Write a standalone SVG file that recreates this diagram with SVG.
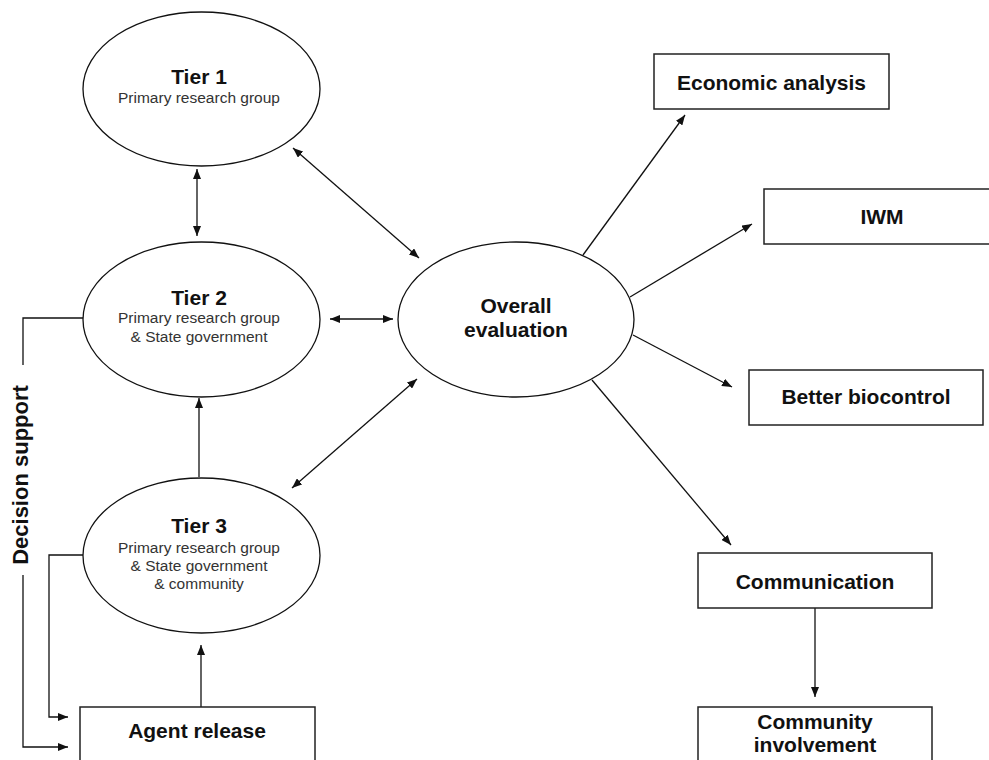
<svg xmlns="http://www.w3.org/2000/svg" width="989" height="760" viewBox="0 0 989 760">
  <defs>
    <marker id="arr" viewBox="0 0 10 8" refX="10" refY="4" markerWidth="10" markerHeight="8" markerUnits="userSpaceOnUse" orient="auto-start-reverse">
      <path d="M0,0 L10,4 L0,8 z" fill="#111"/>
    </marker>
  </defs>
  <style>
    .shape { fill: #fff; stroke: #111; stroke-width: 1.3; }
    .box { fill: #fff; stroke: #222; stroke-width: 1.5; }
    .conn { fill: none; stroke: #111; stroke-width: 1.3; }
    .title { font-family: "Liberation Sans", Arial, sans-serif; font-weight: bold; font-size: 21px; fill: #111; text-anchor: middle; }
    .sub { font-family: "Liberation Sans", Arial, sans-serif; font-size: 15.5px; fill: #333; text-anchor: middle; }
  </style>
  <rect width="989" height="760" fill="#fff"/>

  <g id="connectors">
    <line class="conn" x1="197" y1="169" x2="197" y2="236" marker-start="url(#arr)" marker-end="url(#arr)"/>
    <line class="conn" x1="293" y1="148" x2="419" y2="258" marker-start="url(#arr)" marker-end="url(#arr)"/>
    <line class="conn" x1="330" y1="319" x2="393" y2="319" marker-start="url(#arr)" marker-end="url(#arr)"/>
    <line class="conn" x1="292" y1="488" x2="417" y2="379" marker-start="url(#arr)" marker-end="url(#arr)"/>
    <line class="conn" x1="199" y1="477" x2="199" y2="398" marker-end="url(#arr)"/>
    <line class="conn" x1="201" y1="707" x2="201" y2="645" marker-end="url(#arr)"/>
    <line class="conn" x1="583" y1="255" x2="685" y2="115" marker-end="url(#arr)"/>
    <line class="conn" x1="630" y1="297" x2="752" y2="224" marker-end="url(#arr)"/>
    <line class="conn" x1="633" y1="335" x2="732" y2="387" marker-end="url(#arr)"/>
    <line class="conn" x1="592" y1="380" x2="731" y2="545" marker-end="url(#arr)"/>
    <line class="conn" x1="815" y1="608" x2="815" y2="697" marker-end="url(#arr)"/>
    <polyline class="conn" points="83,318 23,318 23,365"/>
    <polyline class="conn" points="23,575 23,747 68,747" marker-end="url(#arr)"/>
    <polyline class="conn" points="83,555 49,555 49,717 68,717" marker-end="url(#arr)"/>
    <text class="title" x="28" y="475" transform="rotate(-90 28 475)" style="font-size:22px">Decision support</text>
  </g>

  <g id="tier1">
    <ellipse class="shape" cx="201.5" cy="89" rx="118.5" ry="77"/>
    <text class="title" x="199" y="84">Tier 1</text>
    <text class="sub" x="199" y="103">Primary research group</text>
  </g>
  <g id="tier2">
    <ellipse class="shape" cx="201.5" cy="319.5" rx="118.5" ry="77.5"/>
    <text class="title" x="199" y="305">Tier 2</text>
    <text class="sub" x="199" y="323">Primary research group</text>
    <text class="sub" x="199" y="342">&amp; State government</text>
  </g>
  <g id="tier3">
    <ellipse class="shape" cx="201.5" cy="555.5" rx="118.5" ry="77.5"/>
    <text class="title" x="199" y="533">Tier 3</text>
    <text class="sub" x="199" y="553">Primary research group</text>
    <text class="sub" x="199" y="571">&amp; State government</text>
    <text class="sub" x="199" y="589">&amp; community</text>
  </g>
  <g id="overall">
    <ellipse class="shape" cx="516" cy="319.5" rx="118" ry="77.5"/>
    <text class="title" x="516" y="313">Overall</text>
    <text class="title" x="516" y="337">evaluation</text>
  </g>
  <g id="economic">
    <rect class="box" x="654" y="54" width="235" height="55"/>
    <text class="title" x="771.5" y="90">Economic analysis</text>
  </g>
  <g id="iwm">
    <rect class="box" x="764" y="189" width="240" height="55"/>
    <text class="title" x="882" y="224">IWM</text>
  </g>
  <g id="better">
    <rect class="box" x="749" y="370" width="234" height="55"/>
    <text class="title" x="866" y="404">Better biocontrol</text>
  </g>
  <g id="communication">
    <rect class="box" x="698" y="553" width="234" height="55"/>
    <text class="title" x="815" y="589">Communication</text>
  </g>
  <g id="community">
    <rect class="box" x="698" y="707" width="234" height="60"/>
    <text class="title" x="815" y="729">Community</text>
    <text class="title" x="815" y="752">involvement</text>
  </g>
  <g id="agent">
    <rect class="box" x="80" y="707" width="235" height="60"/>
    <text class="title" x="197" y="738">Agent release</text>
  </g>
</svg>
